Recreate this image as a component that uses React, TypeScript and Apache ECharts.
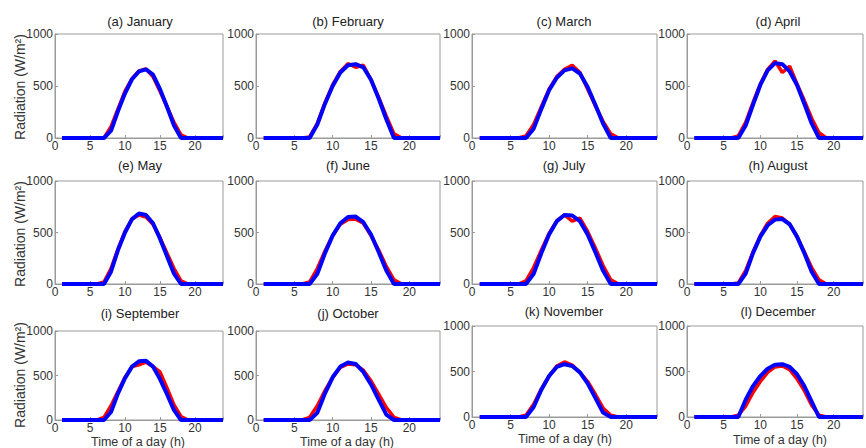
import React, { useEffect, useRef } from "react";
import * as echarts from "echarts";

const hours = [1, 2, 3, 4, 5, 6, 7, 8, 9, 10, 11, 12, 13, 14, 15, 16, 17, 18, 19, 20, 21, 22, 23, 24];
const titles = [
  "(a) January", "(b) February", "(c) March", "(d) April",
  "(e) May", "(f) June", "(g) July", "(h) August",
  "(i) September", "(j) October", "(k) November", "(l) December",
];
const yTicks = [0, 500, 1000];
const xTicks = [0, 5, 10, 15, 20];
const yAxisName = "Radiation (W/m²)";
const xAxisName = "Time of a day (h)";

// red (measured) per month, hourly 1..24
const redJan = [0, 0, 0, 0, 0, 0, 0, 110, 280, 450, 570, 645, 665, 590, 450, 300, 150, 30, 0, 0, 0, 0, 0, 0];
const redFeb = [0, 0, 0, 0, 0, 0, 10, 140, 340, 510, 640, 715, 680, 700, 560, 390, 210, 40, 0, 0, 0, 0, 0, 0];
const redMar = [0, 0, 0, 0, 0, 0, 20, 130, 300, 470, 590, 660, 700, 630, 470, 310, 160, 40, 0, 0, 0, 0, 0, 0];
const redApr = [0, 0, 0, 0, 0, 0, 20, 150, 340, 520, 660, 740, 630, 690, 520, 360, 190, 50, 0, 0, 0, 0, 0, 0];
const redMay = [0, 0, 0, 0, 0, 0, 20, 150, 340, 510, 630, 670, 650, 580, 450, 300, 150, 30, 0, 0, 0, 0, 0, 0];
const redJun = [0, 0, 0, 0, 0, 0, 20, 150, 320, 470, 580, 625, 630, 590, 470, 330, 170, 40, 0, 0, 0, 0, 0, 0];
const redJul = [0, 0, 0, 0, 0, 0, 30, 160, 330, 490, 610, 670, 610, 640, 510, 350, 180, 40, 0, 0, 0, 0, 0, 0];
const redAug = [0, 0, 0, 0, 0, 0, 10, 130, 310, 470, 590, 655, 640, 580, 460, 310, 160, 40, 0, 0, 0, 0, 0, 0];
const redSep = [0, 0, 0, 0, 0, 0, 30, 160, 320, 480, 600, 620, 650, 600, 540, 360, 170, 40, 0, 0, 0, 0, 0, 0];
const redOct = [0, 0, 0, 0, 0, 0, 30, 160, 330, 480, 590, 630, 620, 560, 440, 290, 140, 30, 0, 0, 0, 0, 0, 0];
const redNov = [0, 0, 0, 0, 0, 0, 20, 140, 310, 450, 560, 605, 570, 490, 390, 250, 100, 20, 0, 0, 0, 0, 0, 0];
const redDec = [0, 0, 0, 0, 0, 0, 20, 120, 270, 390, 490, 550, 560, 520, 420, 290, 130, 20, 0, 0, 0, 0, 0, 0];

// blue (model) per month, hourly 1..24
const blueJan = [0, 0, 0, 0, 0, 0, 0, 70, 260, 430, 565, 640, 660, 610, 470, 300, 120, 0, 0, 0, 0, 0, 0, 0];
const blueFeb = [0, 0, 0, 0, 0, 0, 0, 130, 330, 500, 630, 700, 710, 680, 560, 380, 180, 0, 0, 0, 0, 0, 0, 0];
const blueMar = [0, 0, 0, 0, 0, 0, 0, 90, 280, 460, 580, 650, 670, 620, 490, 320, 140, 0, 0, 0, 0, 0, 0, 0];
const blueApr = [0, 0, 0, 0, 0, 0, 0, 120, 320, 510, 650, 720, 710, 640, 510, 330, 140, 0, 0, 0, 0, 0, 0, 0];
const blueMay = [0, 0, 0, 0, 0, 0, 0, 120, 330, 500, 630, 685, 670, 590, 440, 270, 100, 0, 0, 0, 0, 0, 0, 0];
const blueJun = [0, 0, 0, 0, 0, 0, 0, 100, 300, 470, 590, 650, 655, 600, 480, 310, 130, 0, 0, 0, 0, 0, 0, 0];
const blueJul = [0, 0, 0, 0, 0, 0, 0, 100, 300, 480, 610, 670, 665, 610, 480, 310, 130, 0, 0, 0, 0, 0, 0, 0];
const blueAug = [0, 0, 0, 0, 0, 0, 0, 100, 300, 460, 570, 625, 630, 580, 460, 300, 120, 0, 0, 0, 0, 0, 0, 0];
const blueSep = [0, 0, 0, 0, 0, 0, 0, 90, 300, 470, 600, 660, 665, 600, 460, 290, 110, 0, 0, 0, 0, 0, 0, 0];
const blueOct = [0, 0, 0, 0, 0, 0, 0, 80, 300, 480, 600, 645, 630, 540, 400, 230, 60, 0, 0, 0, 0, 0, 0, 0];
const blueNov = [0, 0, 0, 0, 0, 0, 0, 110, 300, 450, 550, 580, 560, 490, 370, 210, 50, 0, 0, 0, 0, 0, 0, 0];
const blueDec = [0, 0, 0, 0, 0, 0, 0, 190, 340, 450, 530, 575, 580, 550, 470, 340, 170, 0, 0, 0, 0, 0, 0, 0];

const redSeries = [redJan, redFeb, redMar, redApr, redMay, redJun, redJul, redAug, redSep, redOct, redNov, redDec];
const blueSeries = [blueJan, blueFeb, blueMar, blueApr, blueMay, blueJun, blueJul, blueAug, blueSep, blueOct, blueNov, blueDec];

const FONT = "'Liberation Sans', Arial, Helvetica, sans-serif";

export default function App() {
  const ref = useRef<HTMLDivElement>(null);
  useEffect(() => {
    if (!ref.current) return;
    const chart = echarts.init(ref.current, undefined, { renderer: "svg" });

    const colLeft = [55, 256, 472, 687];
    const colWidth = [168, 184, 185, 185];
    const rowTop = [[34, 34, 34, 34], [181, 181, 181, 181], [331, 331, 326, 326]];
    const rowHeight = [[104, 104, 104, 104], [103, 103, 103, 103], [89, 89, 91, 91]];
    const titleX = [140, 348, 564, 778];
    const titleY = [[21, 21, 21, 21], [165, 165, 165, 165], [313, 313, 311, 311]];
    const yNameY = [87, 234, 375];
    const xNamePos = [[138, 442], [347, 442], [565, 439], [780, 440]];

    const grids: any[] = [];
    const xAxes: any[] = [];
    const yAxes: any[] = [];
    const series: any[] = [];
    const graphics: any[] = [];

    for (let i = 0; i < 12; i++) {
      const r = Math.floor(i / 4);
      const c = i % 4;
      grids.push({
        left: colLeft[c],
        top: rowTop[r][c],
        width: colWidth[c],
        height: rowHeight[r][c],
        show: true,
        borderColor: "#9a9a9a",
        borderWidth: 1,
        backgroundColor: "transparent",
      });
      xAxes.push({
        gridIndex: i,
        type: "value",
        min: xTicks[0],
        max: 24,
        interval: xTicks[1] - xTicks[0],
        axisLine: { show: true, onZero: false, lineStyle: { color: "#9a9a9a", width: 1 } },
        axisTick: { show: true, inside: true, length: 3, lineStyle: { color: "#9a9a9a" } },
        splitLine: { show: false },
        axisLabel: {
          color: "#333",
          fontSize: 12,
          fontFamily: FONT,
          margin: 2,
          formatter: (v: number) => (xTicks.indexOf(v) >= 0 ? String(v) : ""),
        },
      });
      yAxes.push({
        gridIndex: i,
        type: "value",
        min: yTicks[0],
        max: yTicks[yTicks.length - 1],
        interval: yTicks[1] - yTicks[0],
        axisLine: { show: true, lineStyle: { color: "#9a9a9a", width: 1 } },
        axisTick: { show: true, inside: true, length: 3, lineStyle: { color: "#9a9a9a" } },
        splitLine: { show: false },
        axisLabel: {
          color: "#333",
          fontSize: 12,
          fontFamily: FONT,
          margin: 2,
          formatter: (v: number) => String(v),
        },
      });
      series.push({
        type: "line",
        xAxisIndex: i,
        yAxisIndex: i,
        data: hours.map((h, k) => [h, redSeries[i][k]]),
        showSymbol: false,
        lineStyle: { color: "#ff0000", width: 3.5 },
        itemStyle: { color: "#ff0000" },
        z: 2,
      });
      series.push({
        type: "line",
        xAxisIndex: i,
        yAxisIndex: i,
        data: hours.map((h, k) => [h, blueSeries[i][k]]),
        showSymbol: false,
        lineStyle: { color: "#0000ff", width: 4 },
        itemStyle: { color: "#0000ff" },
        z: 3,
      });
      graphics.push({
        type: "text",
        x: titleX[c],
        y: titleY[r][c],
        style: {
          text: titles[i],
          fill: "#222",
          font: `13px ${FONT}`,
          textAlign: "center",
          textVerticalAlign: "middle",
        },
      });
    }
    for (let r = 0; r < 3; r++) {
      graphics.push({
        type: "text",
        x: 20,
        y: yNameY[r],
        rotation: Math.PI / 2,
        style: {
          text: yAxisName,
          fill: "#333",
          font: `14px ${FONT}`,
          textAlign: "center",
          textVerticalAlign: "middle",
        },
      });
    }
    for (let c = 0; c < 4; c++) {
      graphics.push({
        type: "text",
        x: xNamePos[c][0],
        y: xNamePos[c][1],
        style: {
          text: xAxisName,
          fill: "#333",
          font: `12.5px ${FONT}`,
          textAlign: "center",
          textVerticalAlign: "middle",
        },
      });
    }

    chart.setOption({
      animation: false,
      backgroundColor: "#ffffff",
      textStyle: { fontFamily: FONT },
      grid: grids,
      xAxis: xAxes,
      yAxis: yAxes,
      series,
      graphic: graphics,
    });
    return () => chart.dispose();
  }, []);
  return (
    <div
      ref={ref}
      style={{ position: "absolute", left: 0, top: 0, width: 866, height: 448 }}
    />
  );
}
